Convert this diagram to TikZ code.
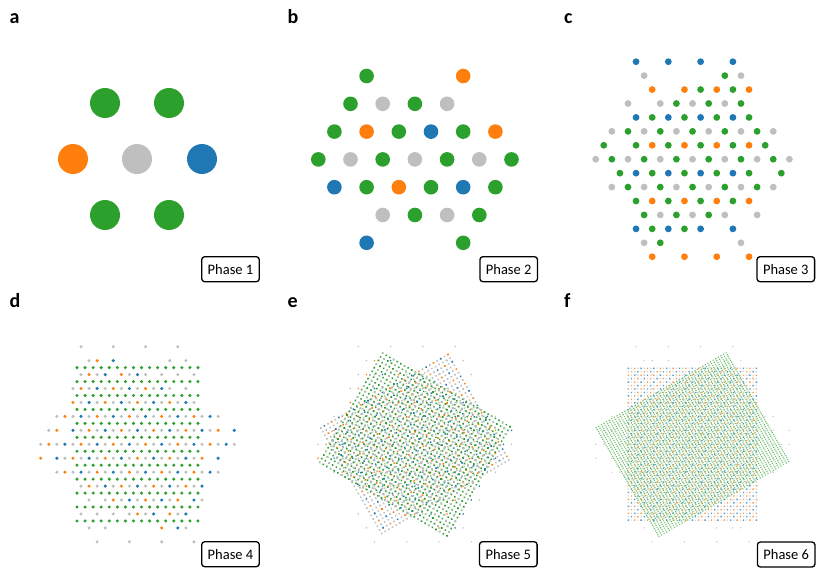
\documentclass[tikz,border=0pt]{standalone}
\usepackage{fontspec}
\setmainfont{Carlito}
\definecolor{cgreen}{HTML}{2CA02C}
\definecolor{corange}{HTML}{FF7F0E}
\definecolor{cblue}{HTML}{1F77B4}
\definecolor{cgray}{HTML}{BFBFBF}
\tikzset{
  phasebox/.style={draw=black, line width=1.3pt, rounded corners=3pt, fill=white,
    minimum width=57.6pt, minimum height=25pt, inner sep=0pt,
    font=\fontsize{14.5}{14.5}\selectfont},
  panellabel/.style={anchor=base west, inner sep=0pt,
    font=\bfseries\fontsize{20}{20}\selectfont}
}
% mixed rows of the star lattice (panel d layout)
\newcommand\drow[2]{\foreach \j in {#2}{%
  \pgfmathtruncatemacro\mm{mod(\j+#1,8)}%
  \ifnum\stM=0 \def\dcol{cgray}\else
   \ifnum\mm=0 \def\dcol{corange}\else\ifnum\mm=4 \def\dcol{cblue}\else\def\dcol{cgray}\fi\fi\fi
  \fill[\dcol] ({\stX+4.033*\j},{346.7+6.97*#1}) circle[radius=\stR];}}
\newcommand\starrows[3]{\def\stX{#1}\def\stR{#2}\def\stM{#3}%
 \drow{0}{10,18,26,34}%
 \drow{2}{12,14,18,32,36}%
 \drow{4}{10,12,14,16,20,22,24,26,30,34,38}%
 \drow{6}{8,10,...,32}\drow{6}{36}%
 \drow{8}{8,10,...,38}%
 \drow{10}{4,6,...,44}%
 \drow{12}{2,4}\drow{12}{8,10,...,44}\drow{12}{48}%
 \drow{14}{0,2,...,48}%
 \drow{16}{0}\drow{16}{4,6,...,40}\drow{16}{44}%
 \drow{18}{4,6,...,44}%
 \drow{20}{10,12,...,40}%
 \drow{22}{12}\drow{22}{16,18,...,34}\drow{22}{38,40}%
 \drow{24}{10,14,18,22,24,26,28,32,34,36}%
 \drow{26}{12,16,30,34,36}%
 \drow{28}{14,22,30,38}}
\begin{document}
\begin{tikzpicture}[x=1pt,y=-1pt]
\fill[white] (0,0) rectangle (830,582);
\useasboundingbox (0,0) rectangle (830,582);

% ---------------- panel a
\fill[cgreen] (105,103) circle[radius=15pt];
\fill[cgreen] (169,103) circle[radius=15pt];
\fill[corange] (73,159) circle[radius=15pt];
\fill[cgray] (137,159) circle[radius=15pt];
\fill[cblue] (202,159) circle[radius=15pt];
\fill[cgreen] (105,215) circle[radius=15pt];
\fill[cgreen] (169,215) circle[radius=15pt];

% ---------------- panel b
\foreach \k/\r in {3/0,2/1,6/1,1/2,5/2,9/2,0/3,4/3,8/3,12/3,3/4,7/4,11/4,6/5,10/5,9/6}
  \fill[cgreen] ({318.3+16.1*\k},{76+27.8*\r}) circle[radius=7.3pt];
\foreach \k/\r in {4/1,8/1,2/3,6/3,10/3,4/5,8/5}
  \fill[cgray] ({318.3+16.1*\k},{76+27.8*\r}) circle[radius=7.3pt];
\foreach \k/\r in {9/0,3/2,11/2,5/4}
  \fill[corange] ({318.3+16.1*\k},{76+27.8*\r}) circle[radius=7.3pt];
\foreach \k/\r in {7/2,1/4,9/4,3/6}
  \fill[cblue] ({318.3+16.1*\k},{76+27.8*\r}) circle[radius=7.3pt];

% ---------------- panel c
\foreach \r in {0,4,8,12}{\foreach \k in {5,9,13,17}
  \fill[cblue] ({595.7+8.07*\k},{61.7+13.93*\r}) circle[radius=3.4pt];}
\foreach \r in {2,6,10,14}{\foreach \k in {7,11,15,19}
  \fill[corange] ({595.7+8.07*\k},{61.7+13.93*\r}) circle[radius=3.4pt];}
\foreach \k/\r in {6/1,18/1,4/3,8/3,12/3,16/3,2/5,6/5,10/5,14/5,18/5,22/5,
  0/7,4/7,8/7,12/7,16/7,20/7,24/7,2/9,6/9,10/9,14/9,18/9,22/9,
  8/11,12/11,16/11,20/11,6/13,18/13}
  \fill[cgray] ({595.7+8.07*\k},{61.7+13.93*\r}) circle[radius=3.4pt];
\foreach \k/\r in {16/1,13/2,17/2,10/3,14/3,18/3,7/4,11/4,15/4,19/4,
  4/5,8/5,12/5,16/5,20/5,1/6,5/6,9/6,13/6,17/6,21/6,
  2/7,6/7,10/7,14/7,18/7,22/7,3/8,7/8,11/8,15/8,19/8,23/8,
  4/9,8/9,12/9,16/9,20/9,5/10,9/10,13/10,17/10,6/11,10/11,14/11,
  7/12,11/12,8/13}
  \fill[cgreen] ({595.7+8.07*\k},{61.7+13.93*\r}) circle[radius=3.4pt];

% ---------------- panel d
\starrows{40.7}{1.7pt}{1}
\foreach \i in {3,5,...,25}{\foreach \j in {9,11,...,39}
  \fill[cgreen] ({40.7+4.033*\j},{346.7+6.97*\i}) circle[radius=1.7pt];}

% ---------------- panel e
\starrows{318.0}{0.85pt}{1}
% lattice B (orange/blue/gray), rotated -30 deg
\foreach \b in {0,...,29}{%
  \ifodd\b
    \fill[cgray] \foreach \a in {0,...,35}{
      ({414.8+(\a-17.5)*(-3.6372)+(\b-14.5)*2.1-0.8},{444.0+(\a-17.5)*2.1+(\b-14.5)*3.6372-0.8}) rectangle ++(1.6,1.6)};
  \else
    \pgfmathtruncatemacro\ao{mod(4-mod(\b,4),4)}%
    \pgfmathtruncatemacro\ab{mod(\ao+2,4)}%
    \fill[corange] \foreach \k in {0,...,8}{
      ({414.8+(\ao+4*\k-17.5)*(-3.6372)+(\b-14.5)*2.1-0.8},{444.0+(\ao+4*\k-17.5)*2.1+(\b-14.5)*3.6372-0.8}) rectangle ++(1.6,1.6)};
    \fill[cblue] \foreach \k in {0,...,8}{
      ({414.8+(\ab+4*\k-17.5)*(-3.6372)+(\b-14.5)*2.1-0.8},{444.0+(\ab+4*\k-17.5)*2.1+(\b-14.5)*3.6372-0.8}) rectangle ++(1.6,1.6)};
    \fill[cgray] \foreach \k in {0,...,17}{
      ({414.8+(1+2*\k-17.5)*(-3.6372)+(\b-14.5)*2.1-0.8},{444.0+(1+2*\k-17.5)*2.1+(\b-14.5)*3.6372-0.8}) rectangle ++(1.6,1.6)};
  \fi}
% lattice A (green with gray), rotated +30 deg
\foreach \b in {0,...,30}{%
  \fill[cgreen] \foreach \a in {0,...,35}{
    ({414.8+(\a-17.5)*3.6372+(\b-15)*(-2.1)-0.8},{444.5+(\a-17.5)*2.1+(\b-15)*3.6372-0.8}) rectangle ++(1.6,1.6)};
  \pgfmathtruncatemacro\ag{mod(\b,3)}%
  \fill[cgray] \foreach \k in {0,...,11}{
    ({414.8+(\ag+3*\k-17.5)*3.6372+(\b-15)*(-2.1)-0.8},{444.5+(\ag+3*\k-17.5)*2.1+(\b-15)*3.6372-0.8}) rectangle ++(1.6,1.6)};}

% ---------------- panel f
\starrows{595.7}{0.7pt}{0}
\foreach \r in {0,...,44}{%
  \pgfmathtruncatemacro\cb{mod(4-mod(\r,4),4)}%
  \pgfmathtruncatemacro\co{mod(\cb+2,4)}%
  \pgfmathtruncatemacro\cg{mod(\r+1,2)}%
  \pgfmathtruncatemacro\kb{(40-\cb)/4}%
  \pgfmathtruncatemacro\ko{(40-\co)/4}%
  \pgfmathtruncatemacro\kg{(40-\cg)/2}%
  \fill[cblue!75] \foreach \k in {0,...,\kb}{
    ({628.3+3.2*(\cb+4*\k)-0.7},{368.3+3.45*\r-0.7}) rectangle ++(1.4,1.4)};
  \fill[corange!75] \foreach \k in {0,...,\ko}{
    ({628.3+3.2*(\co+4*\k)-0.7},{368.3+3.45*\r-0.7}) rectangle ++(1.4,1.4)};
  \fill[cgray!70] \foreach \k in {0,...,\kg}{
    ({628.3+3.2*(\cg+2*\k)-0.6},{368.3+3.45*\r-0.6}) rectangle ++(1.2,1.2)};}
\foreach \a in {0,...,50}{%
  \fill[cgreen!65] \foreach \b in {0,...,57}{
    ({692.5+(\a-25)*(-2.598)+(\b-28.5)*1.1-0.6},{444.6+(\a-25)*1.5+(\b-28.5)*1.9053-0.6}) rectangle ++(1.2,1.2)};}

% ---------------- labels and boxes
\node[panellabel] (la) at (9.3,23.5) {a};
\node[panellabel] (lb) at (287.3,23.5) {b};
\node[panellabel] (lc) at (564,23.5) {c};
\node[panellabel] (ld) at (9.3,307.5) {d};
\node[panellabel] (le) at (287.3,307.5) {e};
\node[panellabel] (lf) at (564,307.5) {f};
\node[phasebox] (p1) at (230.5,269.2) {Phase 1};
\node[phasebox] (p2) at (508.7,269.2) {Phase 2};
\node[phasebox] (p3) at (785.8,269.2) {Phase 3};
\node[phasebox] (p4) at (230.5,554.2) {Phase 4};
\node[phasebox] (p5) at (508.3,554.2) {Phase 5};
\node[phasebox] (p6) at (786.2,554.5) {Phase 6};
\end{tikzpicture}
\end{document}
